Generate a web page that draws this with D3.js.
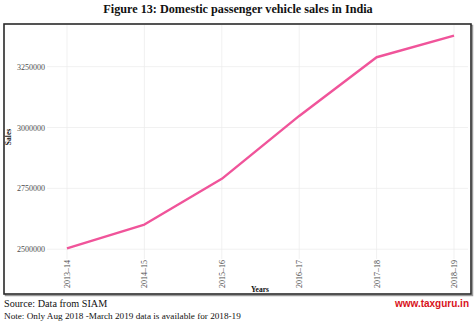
<!DOCTYPE html>
<html>
<head>
<meta charset="utf-8">
<script src="https://cdn.jsdelivr.net/npm/d3@7"></script>
<style>
  html, body { margin: 0; padding: 0; background: #fff; }
  svg { display: block; }
</style>
</head>
<body>
<div id="chart"></div>
<script>
// domestic passenger vehicle sales, units per financial year
const years = ['2013–14', '2014–15', '2015–16', '2016–17', '2017–18', '2018–19'];
const sales = [2503509, 2601236, 2789208, 3047582, 3288581, 3377436];
const yTicks = [2500000, 2750000, 3000000, 3250000];

const width = 474, height = 323;
const panel = { left: 47, right: 468, top: 25, bottom: 259 };

const svg = d3.select('#chart').append('svg')
    .attr('width', width).attr('height', height);

svg.append('text')
    .attr('x', 238).attr('y', 13)
    .attr('text-anchor', 'middle')
    .attr('font-family', 'Liberation Serif, Times New Roman, serif')
    .attr('font-weight', 'bold').attr('font-size', 12.2)
    .attr('fill', '#111')
    .text('Figure 13: Domestic passenger vehicle sales in India');

// framed box with a soft shadow on the right and bottom
svg.append('rect')
    .attr('x', 5.5).attr('y', 25.5).attr('width', 467).attr('height', 270)
    .attr('fill', 'none').attr('stroke', '#9a9a9a').attr('stroke-width', 1.5);
svg.append('rect')
    .attr('x', 4).attr('y', 24).attr('width', 467).attr('height', 270)
    .attr('fill', '#fff').attr('stroke', '#2a2a2a').attr('stroke-width', 1.6);

// y range padded by 5% either side
const ext = d3.extent(sales), pad = (ext[1] - ext[0]) * 0.05;
const y = d3.scaleLinear()
    .domain([ext[0] - pad, ext[1] + pad])
    .range([panel.bottom, panel.top]);

const x = d3.scalePoint()
    .domain(years)
    .range([67, 454]);

const grid = svg.append('g').attr('stroke', '#ebebeb').attr('stroke-width', 0.7);
grid.selectAll('line.h').data(yTicks).enter().append('line')
    .attr('class', 'h')
    .attr('x1', panel.left).attr('x2', panel.right)
    .attr('y1', d => y(d)).attr('y2', d => y(d));
grid.selectAll('line.v').data(years).enter().append('line')
    .attr('class', 'v')
    .attr('x1', d => x(d)).attr('x2', d => x(d))
    .attr('y1', panel.top).attr('y2', panel.bottom);

const yAxis = svg.append('g')
    .attr('transform', 'translate(' + (panel.left - 1) + ',0)')
    .call(d3.axisLeft(y).tickValues(yTicks).tickFormat(d3.format('d')).tickSize(0).tickPadding(1));
yAxis.select('.domain').remove();
yAxis.attr('fill', '#4d4d4d');
yAxis.selectAll('text')
    .attr('font-family', 'Liberation Serif, Times New Roman, serif')
    .attr('font-size', 8).attr('fill', '#4d4d4d');

const xAxis = svg.append('g')
    .attr('transform', 'translate(0,' + panel.bottom + ')')
    .call(d3.axisBottom(x).tickSize(0).tickPadding(0));
xAxis.select('.domain').remove();
xAxis.selectAll('text')
    .attr('font-family', 'Liberation Serif, Times New Roman, serif')
    .attr('font-size', 8).attr('fill', '#4d4d4d')
    .attr('transform', 'rotate(-90)')
    .attr('text-anchor', 'end')
    .attr('x', -1).attr('y', 0).attr('dy', '0.32em');

svg.append('path')
    .datum(sales)
    .attr('fill', 'none')
    .attr('stroke', '#f0549a')
    .attr('stroke-width', 2.4)
    .attr('stroke-linejoin', 'round')
    .attr('d', d3.line().x((d, i) => x(years[i])).y(d => y(d)));

svg.append('text')
    .attr('transform', 'translate(11,137) rotate(-90)')
    .attr('text-anchor', 'middle')
    .attr('font-family', 'Liberation Serif, Times New Roman, serif')
    .attr('font-weight', 'bold').attr('font-size', 7.5).attr('fill', '#111')
    .text('Sales');

svg.append('text')
    .attr('x', 260).attr('y', 292)
    .attr('text-anchor', 'middle')
    .attr('font-family', 'Liberation Serif, Times New Roman, serif')
    .attr('font-weight', 'bold').attr('font-size', 7.5).attr('fill', '#111')
    .text('Years');

svg.append('text')
    .attr('x', 4).attr('y', 307)
    .attr('font-family', 'Liberation Serif, Times New Roman, serif')
    .attr('font-size', 10.2).attr('fill', '#111')
    .text('Source: Data from SIAM');

svg.append('text')
    .attr('x', 4).attr('y', 319)
    .attr('font-family', 'Liberation Serif, Times New Roman, serif')
    .attr('font-size', 9.2).attr('fill', '#111')
    .text('Note: Only Aug 2018 -March 2019 data is available for 2018-19');

svg.append('text')
    .attr('x', 469).attr('y', 307)
    .attr('text-anchor', 'end')
    .attr('font-family', 'Liberation Sans, Arial, sans-serif')
    .attr('font-weight', 'bold').attr('font-size', 10).attr('fill', '#d8121b')
    .text('www.taxguru.in');
</script>
</body>
</html>
